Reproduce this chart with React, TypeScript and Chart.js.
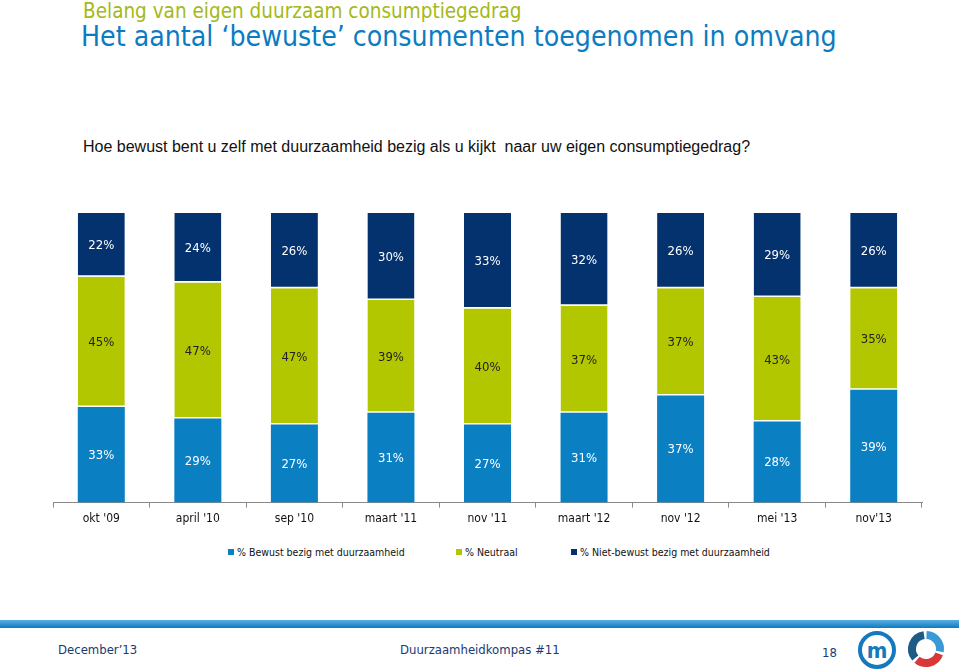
import React, { useEffect, useRef } from "react";
import { Chart, registerables } from "chart.js";

Chart.register(...registerables);

const categories = ["okt '09", "april '10", "sep '10", "maart '11", "nov '11", "maart '12", "nov '12", "mei '13", "nov'13"];
const seriesNames = ["% Bewust bezig met duurzaamheid", "% Neutraal", "% Niet-bewust bezig met duurzaamheid"];
const bewust = [33, 29, 27, 31, 27, 31, 37, 28, 39];
const neutraal = [45, 47, 47, 39, 40, 37, 37, 43, 35];
const nietBewust = [22, 24, 26, 30, 33, 32, 26, 29, 26];
const seriesColors = ["#0a80c3", "#b3c700", "#03326f"];
const labelColors = ["#ffffff", "#222222", "#ffffff"];

const FONT = "'DejaVu Sans Condensed', 'DejaVu Sans', sans-serif";

const labelPlugin = {
  id: "segLabels",
  afterDatasetsDraw(chart: any) {
    const ctx = chart.ctx;
    ctx.save();
    ctx.font = `13px ${FONT}`;
    ctx.textAlign = "center";
    ctx.textBaseline = "middle";
    chart.data.datasets.forEach((ds: any, di: number) => {
      const meta = chart.getDatasetMeta(di);
      meta.data.forEach((el: any, i: number) => {
        const v = ds.data[i];
        const cy = (el.y + el.base) / 2;
        ctx.fillStyle = labelColors[di];
        ctx.fillText(`${v}%`, el.x, cy + 1);
      });
    });
    ctx.restore();
  },
};

function BarChart() {
  const ref = useRef<HTMLCanvasElement | null>(null);
  useEffect(() => {
    if (!ref.current) return;
    const data = [bewust, neutraal, nietBewust];
    const chart = new Chart(ref.current, {
      type: "bar",
      data: {
        labels: categories,
        datasets: data.map((d, i) => ({
          label: seriesNames[i],
          data: d,
          backgroundColor: seriesColors[i],
          borderColor: "#ffffff",
          borderWidth: { top: 0, right: 0, bottom: i === 0 ? 0 : 1.5, left: 0 },
          borderSkipped: false,
          barPercentage: 0.487,
          categoryPercentage: 1,
        })),
      },
      options: {
        animation: false,
        responsive: false,
        maintainAspectRatio: false,
        layout: { padding: { top: 18, left: 53, right: 37, bottom: 0 } },
        plugins: {
          legend: { display: false },
          tooltip: { enabled: false },
        },
        scales: {
          x: {
            stacked: true,
            grid: {
              display: true,
              drawOnChartArea: false,
              drawTicks: true,
              tickLength: 5,
              color: "#8a8a8a",
              offset: true,
            },
            border: { display: true, color: "#8a8a8a", width: 1 },
            ticks: {
              color: "#111111",
              font: { family: FONT, size: 12 },
              padding: 4,
              maxRotation: 0,
              autoSkip: false,
            },
          },
          y: {
            stacked: true,
            display: false,
            min: 0,
            max: 100,
          },
        },
      },
      plugins: [labelPlugin],
    });
    return () => chart.destroy();
  }, []);
  return (
    <canvas
      ref={ref}
      width={959}
      height={335}
      style={{ position: "absolute", left: 0, top: 195, width: 959, height: 335 }}
    />
  );
}

const legendX = [228, 456, 571];

function arc(cx: number, cy: number, r: number, a0: number, a1: number) {
  const p = (a: number) => [cx + r * Math.cos((a * Math.PI) / 180), cy + r * Math.sin((a * Math.PI) / 180)];
  const [x0, y0] = p(a0);
  const [x1, y1] = p(a1);
  const large = (a1 - a0 + 360) % 360 > 180 ? 1 : 0;
  return `M${x0} ${y0} A${r} ${r} 0 ${large} 1 ${x1} ${y1}`;
}

export default function App() {
  return (
    <div style={{ position: "absolute", left: 0, top: 0, width: 959, height: 671, background: "#ffffff", overflow: "hidden" }}>
      <div style={{ position: "absolute", left: 83, top: -1, fontFamily: FONT, fontSize: 20.5, color: "#a4b91a", whiteSpace: "nowrap" }}>
        Belang van eigen duurzaam consumptiegedrag
      </div>
      <div style={{ position: "absolute", left: 81, top: 20, fontFamily: FONT, fontSize: 28.2, color: "#0b7cc1", whiteSpace: "nowrap" }}>
        Het aantal ‘bewuste’ consumenten toegenomen in omvang
      </div>
      <div style={{ position: "absolute", left: 83, top: 138, fontFamily: "'Liberation Sans', Arial, sans-serif", fontSize: 16, color: "#111111", whiteSpace: "nowrap" }}>
        Hoe bewust bent u zelf met duurzaamheid bezig als u kijkt&nbsp; naar uw eigen consumptiegedrag?
      </div>
      <BarChart />
      {seriesNames.map((n, i) => (
        <div key={n} style={{ position: "absolute", left: legendX[i], top: 546, fontFamily: FONT, fontSize: 10.5, color: "#111111", whiteSpace: "nowrap", display: "flex", alignItems: "center" }}>
          <span style={{ display: "inline-block", width: 6, height: 6, background: seriesColors[i], marginRight: 3 }} />
          {n}
        </div>
      ))}
      <div style={{ position: "absolute", left: 0, top: 620, width: 959, height: 8, background: "linear-gradient(#5aaee0, #0a7cc0)" }} />
      <div style={{ position: "absolute", left: 58, top: 642, fontFamily: FONT, fontSize: 13, color: "#183a73", whiteSpace: "nowrap" }}>December’13</div>
      <div style={{ position: "absolute", left: 400, top: 642, fontFamily: FONT, fontSize: 13, color: "#183a73", whiteSpace: "nowrap" }}>Duurzaamheidkompas #11</div>
      <div style={{ position: "absolute", left: 822, top: 645, fontFamily: FONT, fontSize: 13, color: "#183a73", whiteSpace: "nowrap" }}>18</div>
      <svg style={{ position: "absolute", left: 855, top: 630 }} width={100} height={41} viewBox="0 0 100 41">
        <circle cx={22} cy={20} r={17} fill="#ffffff" stroke="#1479bd" strokeWidth={4} />
        <text x={22} y={28} textAnchor="middle" fontFamily={FONT} fontWeight="bold" fontSize={22} fill="#1479bd">m</text>
        <path d={arc(71, 19, 14, 140, 262)} fill="none" stroke="#1d5c86" strokeWidth={8} />
        <path d={arc(71, 19, 14, 272, 10)} fill="none" stroke="#3a9ad6" strokeWidth={8} />
        <path d={arc(71, 19, 14, 20, 130)} fill="none" stroke="#d83838" strokeWidth={8} />
      </svg>
    </div>
  );
}
